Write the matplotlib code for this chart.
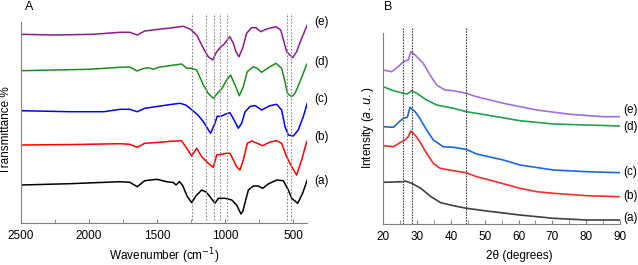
import numpy as np
import matplotlib
matplotlib.use("Agg")
import matplotlib.pyplot as plt
from matplotlib.ticker import MultipleLocator

plt.rcParams['font.family'] = ['Liberation Sans', 'DejaVu Sans']

##### FTIR data (wavenumber, transmittance a.u., curves already stacked)
wn_a = [2500, 2140, 1770, 1700, 1645, 1590, 1500, 1430, 1380, 1360, 1335, 1310, 1280, 1246, 1215, 1172, 1140, 1110, 1075, 1050, 1001, 952, 916, 898, 884, 870, 855, 830, 794, 757, 725, 684, 622, 573, 537, 512, 468, 432, 398]
tr_a = [38, 39.3, 41.3, 40.7, 36.3, 42.3, 43.7, 41.3, 40.5, 38, 41.5, 37, 27, 20.3, 27, 33, 31, 26, 19.7, 24.7, 24.7, 23, 18, 13, 9, 12, 20, 33, 37, 37, 34.7, 39, 43, 42.3, 33, 24.7, 19.7, 29.7, 43]

wn_b = [2500, 2100, 1770, 1700, 1645, 1590, 1500, 1400, 1320, 1282, 1246, 1209, 1172, 1124, 1087, 1062, 1026, 989, 965, 940, 916, 892, 867, 838, 806, 765, 725, 671, 622, 586, 549, 512, 476, 439, 402]
tr_b = [78, 78.5, 79.3, 78.7, 75.7, 79.7, 80.5, 81.7, 82.3, 74.7, 67, 74.7, 66.3, 59.7, 55.7, 68, 68.7, 69.7, 69.7, 63, 56.3, 53, 63, 79.7, 82, 79.7, 77.3, 81, 82.3, 79.7, 66.3, 56.3, 48, 63, 81.3]

wn_c = [2500, 2140, 1890, 1770, 1700, 1645, 1590, 1500, 1400, 1331, 1290, 1258, 1200, 1160, 1107, 1075, 1058, 1040, 1026, 1001, 965, 928, 904, 879, 855, 818, 781, 733, 671, 622, 586, 561, 537, 500, 464, 427, 398]
tr_c = [112.3, 111.3, 111.3, 113.7, 113.7, 111.3, 114.7, 116.5, 118.5, 119.7, 118, 114.7, 108, 101.3, 89.7, 99.7, 107, 106.5, 107, 108.7, 110.3, 101.3, 94.7, 99.7, 111, 116.5, 117.5, 113, 117.3, 118.7, 113, 96.3, 88, 87, 93, 106.3, 119.7]

wn_d = [2500, 2000, 1770, 1700, 1645, 1600, 1564, 1527, 1490, 1400, 1319, 1282, 1246, 1209, 1160, 1124, 1087, 1050, 1026, 989, 960, 928, 896, 867, 838, 794, 765, 733, 671, 627, 586, 561, 544, 512, 488, 451, 402]
tr_d = [152.3, 153.7, 155.7, 156, 152, 154.5, 155.3, 153.7, 155.7, 157.5, 159, 154.7, 154.7, 153, 138, 129.7, 124.7, 130.7, 134, 143, 148, 138, 127.3, 136.3, 151.3, 156.3, 154.7, 150.7, 156.3, 159.7, 154.7, 141.3, 129.7, 126.3, 129.7, 141.3, 158.7]

wn_e = [2500, 2260, 1970, 1770, 1700, 1645, 1590, 1500, 1400, 1307, 1258, 1209, 1160, 1124, 1092, 1062, 1038, 1009, 985, 965, 940, 921, 899, 872, 843, 806, 774, 740, 696, 627, 593, 569, 549, 530, 505, 476, 439, 398]
tr_e = [188.7, 188, 188.7, 190.7, 190.7, 188, 192, 193.5, 195, 196.7, 194, 188, 174.7, 166.3, 163, 171.3, 175.3, 178.7, 183, 186.3, 179.7, 171.3, 166.3, 174.7, 189.7, 195.3, 195.3, 191.3, 194, 196.3, 193, 181.3, 171.3, 168.7, 165.3, 171.3, 184.7, 198]

ftir_marks = [1245, 1143, 1084, 1035, 984, 549, 517]

##### XRD data (2theta, intensity a.u., stacked)
th_a = [20, 25.9, 26.4, 28.4, 31.1, 34.1, 37, 40.7, 44.6, 50.6, 60.4, 70.3, 80.1, 90]
it_a = [41.7, 42.3, 43, 40.7, 35.7, 27.3, 21.3, 18.3, 15.7, 13, 9, 5.7, 4, 4]

th_b = [20, 23, 24.9, 26.4, 27.4, 28.1, 29.4, 30.8, 32.8, 34.8, 36.8, 40.7, 44.5, 47.6, 52.5, 60.4, 65.4, 70.3, 80.1, 90]
it_b = [78.3, 77.3, 81.3, 84, 87.3, 93, 89, 82.3, 70.7, 60.7, 55.7, 53.3, 51.3, 47.3, 43, 35.7, 32.3, 30.7, 28.3, 27.3]

th_c = [20, 23, 24.4, 25.9, 27.1, 27.9, 29.4, 30.8, 32.8, 34.8, 37.7, 40.7, 44.5, 47.6, 55.5, 60.4, 70.3, 80.1, 90]
it_c = [97.3, 96.7, 101.3, 105.7, 106.7, 116.7, 112.3, 105.7, 94, 84, 77.3, 76.7, 74.7, 70, 64, 59, 54, 52.3, 51.3]

th_d = [20, 23, 25.9, 27.1, 28.4, 29.9, 32.8, 35.8, 40.7, 44.6, 50.6, 60.4, 70.3, 80.1, 90]
it_d = [137.3, 133.3, 130.7, 130, 133.3, 130.7, 124, 119, 115.7, 112.3, 109, 103.3, 100, 99, 98]

th_e = [20, 22.5, 24.4, 25.9, 27.4, 28.1, 29.4, 31.8, 33.8, 35.8, 38.2, 40.7, 44.5, 47.6, 55.5, 65.4, 75.2, 85.1, 90]
it_e = [154, 152.3, 157.3, 162.3, 164, 172.3, 169, 160.7, 149, 139, 134, 133.3, 130.7, 127.3, 120.7, 114, 109.7, 107.3, 107.3]

xrd_marks = [25.9, 28.4, 44.5]

labels = ["(a)", "(b)", "(c)", "(d)", "(e)"]
ftir_label_y = [42.3, 85.7, 123.7, 161.3, 201.3]
xrd_label_y = [5.7, 28, 51.7, 97.3, 114]

ftir_cols = ["black", "#ff0000", "#0000ff", "#1e8c1e", "#8b1a8b"]
xrd_cols = ["#404040", "#ff2a2a", "#1a66e0", "#22a04a", "#a070e0"]

#####
fig = plt.figure(figsize=(6.38, 2.65), dpi=100)
axA = fig.add_axes([20.67/638, 42/265, 286.3/638, 210/265])
axB = fig.add_axes([383.3/638, 41/265, 236.7/638, 197/265])

ftir = [(wn_a, tr_a), (wn_b, tr_b), (wn_c, tr_c), (wn_d, tr_d), (wn_e, tr_e)]
for (x, y), c in zip(ftir, ftir_cols):
    axA.plot(x, y, color=c, lw=1.1, solid_joinstyle="round")
for m in ftir_marks:
    axA.plot([m, m], [3, 210], color="#8a8a8a", ls=(0, (1.5, 1.5)), lw=0.8)
for lab, y in zip(labels, ftir_label_y):
    axA.text(350, y, lab, fontsize=8.5, va="center", ha="left", clip_on=False)

axA.set_xlim(2500, 400)
axA.set_ylim(0, 210)
axA.xaxis.set_major_locator(MultipleLocator(500))
axA.xaxis.set_minor_locator(MultipleLocator(250))
axA.set_yticks([])
axA.spines["left"].set_bounds(0, 201)

xrd = [(th_a, it_a), (th_b, it_b), (th_c, it_c), (th_d, it_d), (th_e, it_e)]
for (x, y), c in zip(xrd, xrd_cols):
    axB.plot(x, y, color=c, lw=1.2, solid_joinstyle="round")
for m in xrd_marks:
    axB.plot([m, m], [0, 197], color="#444444", ls=(0, (1.5, 1)), lw=0.8)
for lab, y in zip(labels, xrd_label_y):
    axB.text(91, y, lab, fontsize=8.5, va="center", ha="left", clip_on=False)

axB.set_xlim(20, 90)
axB.set_ylim(0, 197)
axB.xaxis.set_major_locator(MultipleLocator(10))
axB.xaxis.set_minor_locator(MultipleLocator(5))
axB.set_yticks([])
axB.spines["left"].set_bounds(0, 191)

for ax in (axA, axB):
    ax.spines["top"].set_visible(False)
    ax.spines["right"].set_visible(False)
    ax.spines["left"].set_color("#808080")
    ax.spines["bottom"].set_color("#808080")
    ax.tick_params(axis="x", which="both", direction="in", length=3, color="#808080",
                   labelsize=8.5, pad=5)

fig.text(163.8/638, 1 - 256/265, "Wavenumber (cm$^{-1}$)", fontsize=8.5, ha="center", va="center")
fig.text(519/638, 1 - 256/265, "2θ (degrees)", fontsize=8.5, ha="center", va="center")
fig.text(6/638, 1 - 130/265, "Transmittance %", rotation=90, fontsize=8.5, ha="center", va="center")
fig.text(368/638, 1 - 128/265, "Intensity ($\\it{a.u.}$)", rotation=90, fontsize=8.5, ha="center", va="center")
fig.text(29/638, 1 - 7/265, "A", fontsize=9, ha="center", va="center")
fig.text(388/638, 1 - 7/265, "B", fontsize=9, ha="center", va="center")

plt.savefig("out.png", dpi=100)
